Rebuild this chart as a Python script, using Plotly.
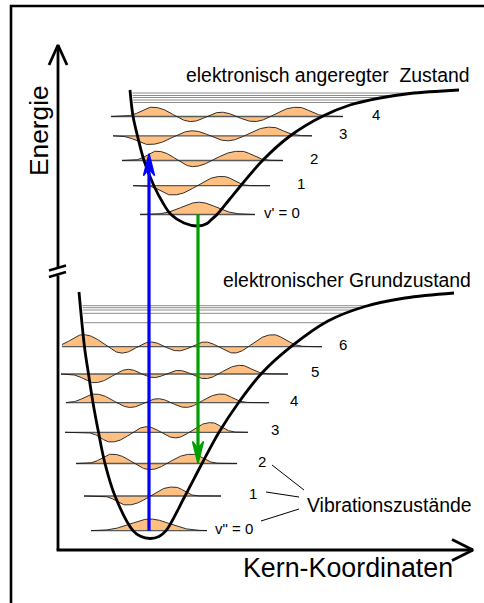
import numpy as np
import plotly.graph_objects as go

# ---------------------------------------------------------------------------
# Diagram data (x: nuclear coordinate, y: energy; canvas units, y grows downward)
# ---------------------------------------------------------------------------

# excited electronic state: potential energy curve
exc_curve_x = [130, 133, 137.5, 144, 154, 163, 171, 184, 198, 207, 211, 217, 229, 240.5, 262.5, 290,
               323, 350, 380, 410, 459]
exc_curve_y = [90, 116, 136, 160.5, 186, 203, 214.5, 223, 226, 223.5, 220, 214.5, 200, 186, 160.5, 136,
               116, 105, 98, 93.5, 90]

# excited state vibrational levels v' = 0..4
exc_level_y = [214.5, 185.7, 160.5, 135.8, 116.5]
exc_x_left = [140, 133, 122, 113, 111]
exc_x_right = [255, 270, 283, 312, 343]
exc_center = [199, 197, 193, 210, 221]
exc_scale_l = [15, 21.5, 21, 28, 27]
exc_scale_r = [15, 21.5, 27, 28, 30]
exc_amp = [12.3, 9.3, 9.3, 8.7, 9.3]
exc_labels = ["v' = 0", "1", "2", "3", "4"]
exc_diss_y = [93, 95.5, 97.5, 100, 102.5]

# electronic ground state: potential energy curve
gnd_curve_x = [79, 84.5, 88.5, 93, 98.5, 105, 115, 133, 140, 150, 159, 166, 185, 202, 219, 238.5,
               261, 291, 328, 365, 405, 454]
gnd_curve_y = [292, 347, 374, 402.7, 432.3, 463.5, 496, 530.7, 536, 538.5, 536.5, 530.7, 496, 463.5,
               432.3, 402.7, 374, 346.7, 321, 306.5, 298, 293]

# ground state vibrational levels v'' = 0..6
gnd_level_y = [530.7, 496, 463.5, 432.3, 402.7, 374, 346.7]
gnd_x_left = [91, 84, 76, 65, 66, 61, 62]
gnd_x_right = [207, 221, 237, 248, 269, 288, 322]
gnd_center = [150, 150, 150, 161, 158, 166, 178]
gnd_scale_l = [17, 20, 22, 23, 25, 25, 30]
gnd_scale_r = [17, 20, 24, 23, 25, 26, 30]
gnd_amp = [11.7, 9, 9.3, 9.7, 8.7, 8.7, 12]
gnd_labels = ['v" = 0', "1", "2", "3", "4", "5", "6"]
gnd_diss_y = [305.7, 307.7, 310, 313.3, 322.7]

# vertical transitions: (nuclear coordinate, from level, to level)
absorption = dict(x=149, v_from=0, v_to=2)   # ground -> excited
emission = dict(x=198, v_from=0, v_to=2)     # excited -> ground

# ---------------------------------------------------------------------------
# Style
# ---------------------------------------------------------------------------
W, H = 484, 603
FONT = "Liberation Sans, Arial, sans-serif"
PEACH = "#ffbf80"
BASE_COLOR = "#5a5a5a"
DISS_COLOR = "#8c8c8c"
BLUE = "#0000ff"
GREEN = "#00a000"
K_WEIGHT = 0.12   # slight emphasis of outer lobes
TAIL = 2.5        # tail damping outside the classical region

exc_label_dx = [7, 31, 31, 31, 33]
gnd_label_dx = [6, 32, 25, 27, 25, 27, 21]

fig = go.Figure()


def add_line(x, y, color="black", width=1.0, shape="linear"):
    fig.add_trace(go.Scatter(x=x, y=y, mode="lines", hoverinfo="skip",
                             line=dict(color=color, width=width, shape=shape)))


def hermite_function(n, xi):
    h_prev, h = np.ones_like(xi), 2 * xi
    if n == 0:
        h = h_prev
    else:
        for k in range(1, n):
            h_prev, h = h, 2 * xi * h - 2 * k * h_prev
    return h * np.exp(-xi ** 2 / 2)


def wave_profile(n, x, c, sl, sr):
    xi = np.where(x < c, (x - c) / sl, (x - c) / sr)
    psi = hermite_function(n, xi) * (1 + K_WEIGHT * xi ** 2)
    if n > 0:
        edge = np.sqrt(2 * n + 1) - 0.4
        over = np.clip(np.abs(xi) - edge, 0, None)
        psi = psi * np.exp(-TAIL * over ** 2)
    return psi / np.abs(psi).max()


def level_curve(state, v):
    lv = state["level_y"][v]
    x = np.linspace(state["x_left"][v], state["x_right"][v], 400)
    psi = wave_profile(v, x, state["center"][v], state["scale_l"][v], state["scale_r"][v])
    return x, lv - state["amp"][v] * psi


def branch_x(cx, cy, y, side):
    cx, cy = np.asarray(cx, float), np.asarray(cy, float)
    i = int(np.argmax(cy))
    if side == "left":
        return np.interp(y, cy[:i + 1], cx[:i + 1])
    return np.interp(y, cy[i:][::-1], cx[i:][::-1])


excited = dict(level_y=exc_level_y, x_left=exc_x_left, x_right=exc_x_right, center=exc_center,
               scale_l=exc_scale_l, scale_r=exc_scale_r, amp=exc_amp,
               curve_x=exc_curve_x, curve_y=exc_curve_y, diss_y=exc_diss_y,
               labels=exc_labels, label_dx=exc_label_dx)
ground = dict(level_y=gnd_level_y, x_left=gnd_x_left, x_right=gnd_x_right, center=gnd_center,
              scale_l=gnd_scale_l, scale_r=gnd_scale_r, amp=gnd_amp,
              curve_x=gnd_curve_x, curve_y=gnd_curve_y, diss_y=gnd_diss_y,
              labels=gnd_labels, label_dx=gnd_label_dx)

annotations = []

for state in (excited, ground):
    # near-continuum levels close to the dissociation limit
    for y in state["diss_y"]:
        xl = branch_x(state["curve_x"], state["curve_y"], y, "left") + 2
        xr = branch_x(state["curve_x"], state["curve_y"], y, "right")
        add_line([xl, xr], [y, y], DISS_COLOR, 1.0)

    # vibrational wavefunctions on their energy levels
    for v, lv in enumerate(state["level_y"]):
        x, y = level_curve(state, v)
        fig.add_trace(go.Scatter(
            x=np.concatenate([x, x[::-1]]),
            y=np.concatenate([y, np.full_like(x, lv)]),
            mode="lines", fill="toself", fillcolor=PEACH,
            line=dict(width=0, color=PEACH), hoverinfo="skip"))
        add_line([x[0], x[-1]], [lv, lv], BASE_COLOR, 1.3)
        add_line(x, y, "#1a1a1a", 0.9)

        label = state["labels"][v]
        annotations.append(dict(
            x=state["x_right"][v] + state["label_dx"][v], y=lv - 2.5, text=label,
            xanchor="left" if v == 0 else "center", yanchor="middle",
            showarrow=False, font=dict(family=FONT, size=15, color="black")))

    # potential energy curve
    add_line(state["curve_x"], state["curve_y"], "black", 2.8, "spline")


# vertical transitions
def transition(start_state, end_state, tr, color, tip_on_wave):
    x0 = tr["x"]
    y0 = start_state["level_y"][tr["v_from"]]
    if tip_on_wave:
        wx, wy = level_curve(end_state, tr["v_to"])
        y1 = float(np.interp(x0, wx, wy))
    else:
        y1 = end_state["level_y"][tr["v_to"]]
    d = np.sign(y1 - y0)
    head_len, half_w, notch = 22, 5.5, 15
    add_line([x0, x0], [y0, y1 - d * notch], color, 3.2)
    fig.add_trace(go.Scatter(
        x=[x0, x0 - half_w, x0, x0 + half_w, x0],
        y=[y1, y1 - d * head_len, y1 - d * notch, y1 - d * head_len, y1],
        mode="lines", fill="toself", fillcolor=color, hoverinfo="skip",
        line=dict(color=color, width=1.5)))


transition(ground, excited, absorption, BLUE, True)
transition(excited, ground, emission, GREEN, False)

# leader lines to the "Vibrationszustände" caption
leaders = [((272, 465), (304, 490)), ((266, 492), (299, 497)), ((261, 521), (299, 509))]
for (xa, ya), (xb, yb) in leaders:
    add_line([xa, xb], [ya, yb], "black", 1.0)

# energy axis (with break) and nuclear-coordinate axis
AX = 58
add_line([AX, AX], [45, 267.5], "black", 2.8)
add_line([AX, AX], [275.5, 550], "black", 2.8)
add_line([49, AX, 67], [65, 45, 65], "black", 2.8)
add_line([49, 66], [270.5, 265.5], "black", 2.5)
add_line([49, 66], [277, 272], "black", 2.5)
add_line([AX - 1.4, 473], [550, 550], "black", 2.8)
add_line([452, 473, 452], [539.5, 550, 560.5], "black", 2.8)

# outer frame (top and left edges)
add_line([11, 11, W + 5], [H + 5, 6, 6], "black", 2.6)

texts = [
    dict(x=39, y=131, text="Energie", size=26.3, xanchor="center", angle=-90),
    dict(x=241, y=568, text="Kern-Koordinaten", size=26.8, xanchor="left", angle=0),
    dict(x=184, y=75, text="elektronisch angeregter \u00a0Zustand", size=19.4, xanchor="left", angle=0),
    dict(x=221, y=280, text="elektronischer Grundzustand", size=19.4, xanchor="left", angle=0),
    dict(x=305, y=505, text="Vibrationszustände", size=19.4, xanchor="left", angle=0),
]
for t in texts:
    annotations.append(dict(x=t["x"], y=t["y"], text=t["text"], xanchor=t["xanchor"],
                            yanchor="middle", textangle=t["angle"], showarrow=False,
                            font=dict(family=FONT, size=t["size"], color="black")))

fig.update_layout(
    width=W, height=H, autosize=False,
    margin=dict(l=0, r=0, t=0, b=0, pad=0),
    paper_bgcolor="white", plot_bgcolor="white",
    showlegend=False, hovermode=False,
    xaxis=dict(range=[0, W], visible=False, fixedrange=True),
    yaxis=dict(range=[H, 0], visible=False, fixedrange=True),
    annotations=annotations,
)

fig.write_html("out.html", include_plotlyjs=True, config={"displayModeBar": False, "staticPlot": True})
